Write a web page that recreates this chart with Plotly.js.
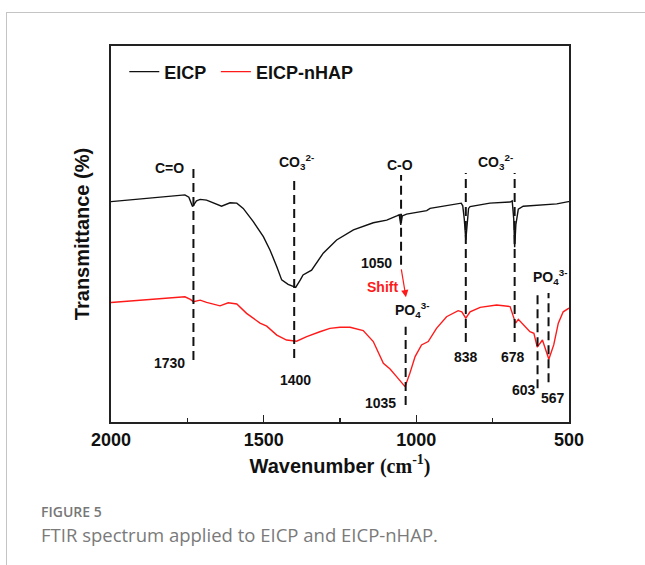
<!DOCTYPE html>
<html>
<head>
<meta charset="utf-8">
<script src="https://cdn.plot.ly/plotly-3.0.1.min.js"></script>
<style>
  html, body { margin: 0; padding: 0; background: #fff; }
  #frame { position: absolute; left: 6px; top: 12px; width: 700px; height: 600px;
           border-top: 1px solid #c4c4c4; border-left: 1px solid #c4c4c4; pointer-events: none; }
  #chart { position: absolute; left: 0; top: 0; width: 645px; height: 565px; }
</style>
</head>
<body>
<div id="frame"></div>
<div id="chart"></div>
<script>
// ---- data ----
const seriesNames = ["EICP", "EICP-nHAP"];

const wnEICP = [2000,1950,1900,1850,1800,1758,1745,1733,1720,1708,1687,1660,1638,1610,1588,1567,1534,1501,1479,1457,1441,1420,1395,1380,1371,1343,1305,1261,1206,1141,1097,1064,1056,1051,1046,1032,966,955,868,853,848,843,838,834,829,824,759,693,686,681,678,674,669,666,650,585,540,502,500];
const tEICP  = [58.6,59.0,59.3,59.7,60.0,60.4,59.8,57.3,58.8,59.2,59.0,58.2,57.4,58.3,58.2,56.8,53.3,49.3,45.7,41.3,37.8,36.6,35.8,37.8,39.1,40.4,44.9,48.4,51.1,53.0,53.7,54.8,55.1,52.4,54.8,55.3,56.2,56.8,58.0,58.2,57.5,54.0,48.4,53.5,56.8,57.3,58.2,58.5,58.8,54.0,46.5,52.5,56.0,56.6,57.4,57.7,58.0,58.6,58.6];

const wnNHAP = [2000,1927,1818,1758,1740,1730,1708,1687,1643,1616,1588,1556,1512,1490,1457,1425,1392,1359,1316,1283,1250,1217,1174,1141,1108,1086,1064,1037,1021,1004,983,961,934,901,863,851,838,824,791,737,693,683,675,666,650,628,615,604,587,566,550,535,519,502,500];
const tNHAP  = [31.8,32.3,32.9,33.3,32.6,32.0,32.4,31.8,30.9,31.7,31.4,28.9,26.3,25.5,23.1,21.8,21.5,22.7,24.0,24.9,25.2,25.2,24.3,21.4,15.6,14.1,12.0,9.4,13.0,17.4,20.5,21.4,24.9,28.0,29.6,29.3,27.6,29.3,30.5,31.1,30.7,28.5,26.3,27.3,25.8,24.0,23.6,19.9,21.8,16.7,20.5,26.3,29.3,30.2,30.3];

// peak markers (wavenumbers) and their labels
const peakWn     = [1730, 1400, 1050, 1035, 838, 678, 603, 567];
const peakLabels = ["1730", "1400", "1050", "1035", "838", "678", "603", "567"];
const groupLabels = ["C=O", "CO<sub>3</sub><sup>2-</sup>", "C-O", "PO<sub>4</sub><sup>3-</sup>", "CO<sub>3</sub><sup>2-</sup>", "PO<sub>4</sub><sup>3-</sup>"];

const xTickVals = [2000, 1500, 1000, 500];

// ---- layout helpers (positions, not data) ----
const lineTop    = [67.3, 65.2, 65.7, 25.3, 66.2, 66.2, 34.3, 34.3];
const lineBottom = [16.5, 17.0, 41.8, 4.5, 21.3, 21.3, 9.0, 10.6];
const numPos = [[1810,15.7],[1397,11.2],[1129,42.3],[1116,5.1],[836,17.3],[685,17.3],[649,8.5],[551,6.4]];
const groupPos = [[1807,67.6],[1392,69.1],[1053,68.4],[1014,29.8],[742,69.1],[562,38.6]];

const FONT = "Liberation Sans, Arial, sans-serif";

const traces = [
  { x: wnEICP, y: tEICP, type: "scatter", mode: "lines", name: seriesNames[0],
    line: { color: "#111111", width: 1.4 }, legend: "legend" },
  { x: wnNHAP, y: tNHAP, type: "scatter", mode: "lines", name: seriesNames[1],
    line: { color: "#ff1a1a", width: 1.4 }, legend: "legend2" }
];

const shapes = peakWn.map((w, i) => ({
  type: "line", xref: "x", yref: "y", x0: w, x1: w, y0: lineBottom[i], y1: lineTop[i],
  line: { color: "#111", width: 2, dash: "9px,5px" }
}));

const annotations = [];
peakLabels.forEach((t, i) => annotations.push({
  x: numPos[i][0], y: numPos[i][1], xref: "x", yref: "y", text: t, showarrow: false,
  font: { family: FONT, size: 14, color: "#111", weight: "bold" }
}));
groupLabels.forEach((t, i) => annotations.push({
  x: groupPos[i][0], y: groupPos[i][1], xref: "x", yref: "y", text: t, showarrow: false,
  font: { family: FONT, size: 14, color: "#111", weight: "bold" }
}));
// shift arrow
annotations.push({
  x: 1034, y: 33.2, ax: 1050, ay: 41.0, xref: "x", yref: "y", axref: "x", ayref: "y",
  text: "", showarrow: true, arrowhead: 2, arrowsize: 1.2, arrowwidth: 1.2, arrowcolor: "#ff1a1a"
});
annotations.push({
  x: 1112, y: 35.9, xref: "x", yref: "y", text: "Shift", showarrow: false,
  font: { family: FONT, size: 14, color: "#ff1a1a", weight: "bold" }
});
// caption
annotations.push({
  x: -0.157, y: -0.239, xref: "paper", yref: "paper", xanchor: "left", yanchor: "middle",
  text: "FIGURE 5", showarrow: false,
  font: { family: "Open Sans, Noto Sans, sans-serif", size: 14, color: "#777", weight: 600 }
});
annotations.push({
  x: -0.157, y: -0.300, xref: "paper", yref: "paper", xanchor: "left", yanchor: "middle",
  text: "FTIR spectrum applied to EICP and EICP-nHAP.", showarrow: false,
  font: { family: "Open Sans, Noto Sans, sans-serif", size: 18.5, color: "#7a7a7a" }
});

const legendBase = {
  orientation: "h", y: 0.931, xanchor: "left", yanchor: "middle",
  font: { family: FONT, size: 18, color: "#111", weight: "bold" },
  bgcolor: "rgba(0,0,0,0)", itemwidth: 30
};

const layout = {
  width: 645, height: 565,
  margin: { l: 111, r: 76, t: 46, b: 143 },
  paper_bgcolor: "rgba(0,0,0,0)", plot_bgcolor: "#fff",
  showlegend: true,
  legend: Object.assign({}, legendBase, { x: 0.029 }),
  legend2: Object.assign({}, legendBase, { x: 0.229 }),
  xaxis: {
    range: [2000, 500], tickvals: xTickVals, ticktext: xTickVals.map(String),
    showline: true, mirror: true, linecolor: "#222", linewidth: 2,
    ticks: "inside", ticklen: 7, tickwidth: 1.5, tickcolor: "#222",
    minor: { dtick: 250, tick0: 0, ticks: "inside", ticklen: 4, tickwidth: 1.2, tickcolor: "#222" },
    showgrid: false, zeroline: false,
    tickfont: { family: FONT, size: 18, color: "#111", weight: "bold" },
    title: { text: "Wavenumber <span style='font-family:Liberation Serif, Times New Roman, serif'>(cm<sup>-1</sup>)</span>",
             font: { family: FONT, size: 20, color: "#111", weight: "bold" }, standoff: 10 }
  },
  yaxis: {
    range: [0, 100], showticklabels: false, ticks: "",
    showline: true, mirror: true, linecolor: "#222", linewidth: 2,
    showgrid: false, zeroline: false,
    title: { text: "Transmittance (%)", font: { family: FONT, size: 20, color: "#111", weight: "bold" }, standoff: 14 }
  },
  shapes: shapes,
  annotations: annotations
};

Plotly.newPlot("chart", traces, layout, { displayModeBar: false, staticPlot: true });
</script>
</body>
</html>
